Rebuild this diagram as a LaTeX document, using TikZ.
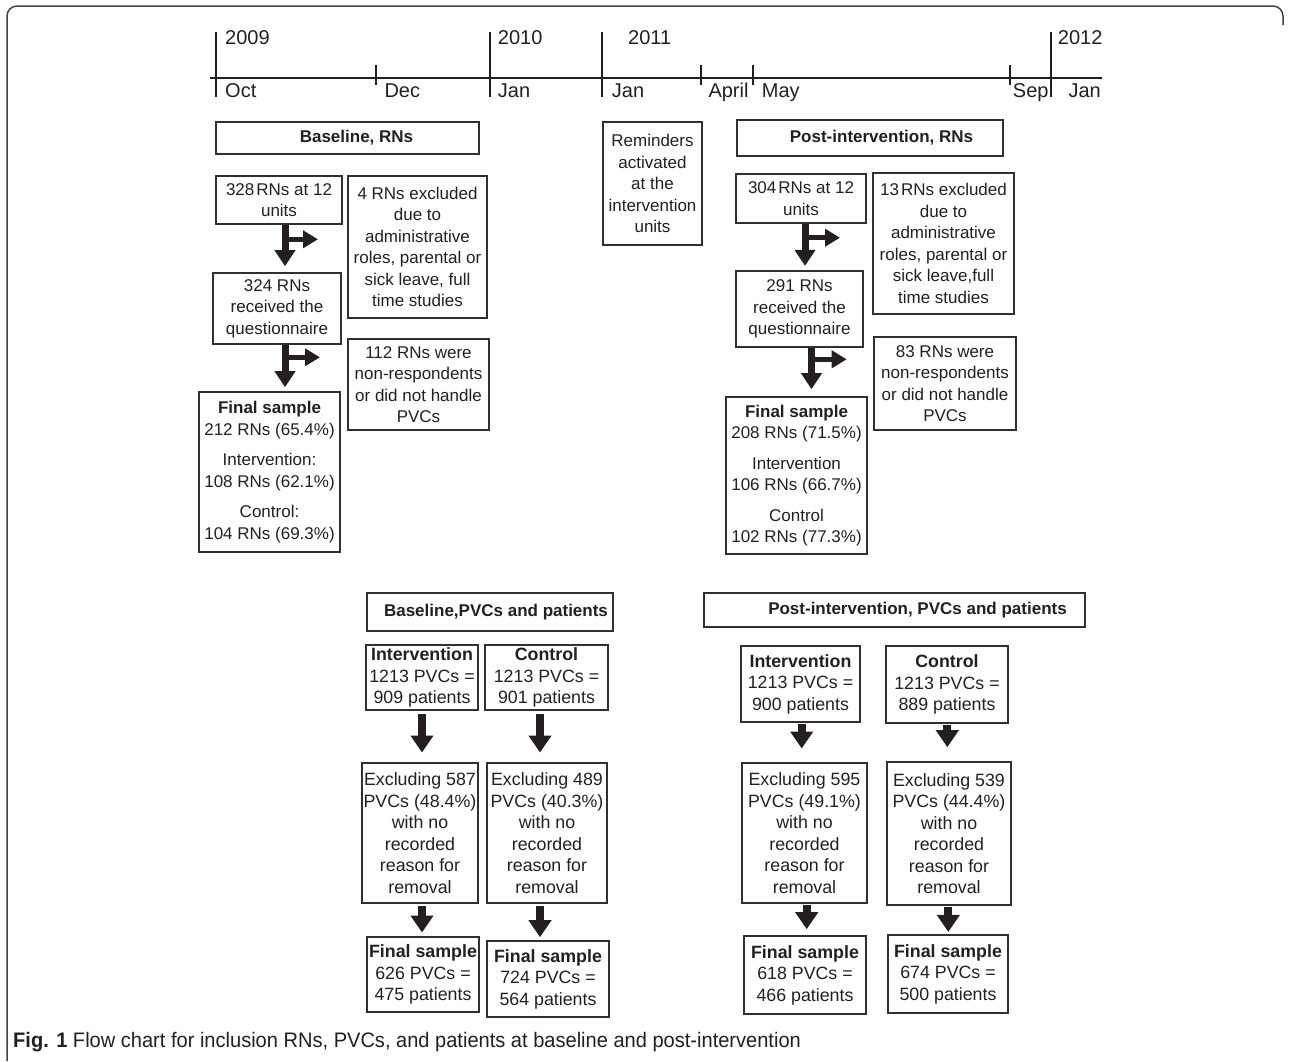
\documentclass[tikz,border=0pt]{standalone}
\usepackage{fontspec}
\setmainfont{Liberation Sans}
\newfontfamily\capfont[FakeStretch=0.955]{Liberation Sans}
\usetikzlibrary{arrows.meta}
\definecolor{ink}{HTML}{231F20}
\definecolor{boxcol}{HTML}{303030}
\definecolor{framecol}{HTML}{444444}
\begin{document}
\begin{tikzpicture}[x=1pt,y=-1pt,
  box/.style={draw=boxcol, line width=1.6pt, align=center, inner sep=1pt, text=ink,
    font=\fontsize{17pt}{21.5pt}\selectfont},
  pbox/.style={box, font=\fontsize{17.8pt}{21.5pt}\selectfont},
  tlabel/.style={anchor=base west, inner sep=0pt, text=ink, font=\fontsize{20pt}{24pt}\selectfont},
  tline/.style={draw=ink, line width=2.6pt},
  tick/.style={draw=ink, line width=2pt},
  rnarrow/.style={draw=ink, line width=7pt, -{Triangle[width=20pt,length=16pt]}},
  brarrow/.style={draw=ink, line width=5pt, -{Triangle[width=17pt,length=15pt]}},
  pvcarrow/.style={draw=ink, line width=8pt, -{Triangle[width=22pt,length=17pt]}}
]
\useasboundingbox (0,0) rectangle (1290,1061);
% outer frame
\draw[framecol, line width=1.5pt, rounded corners=10pt] (7,1061) -- (7,6) -- (1283,6) -- (1283,25);

% timeline
\draw[tline] (210,78) -- (1102,78);
\foreach \x in {216,490,602,1051} \draw[tick] (\x,32) -- (\x,97);
\foreach \x in {376,701,753,1010} \draw[tick] (\x,65) -- (\x,85);
\node[tlabel] (y09) at (225,44) {2009};
\node[tlabel] (y10) at (497.7,44) {2010};
\node[tlabel] (y11) at (628,44) {2011};
\node[tlabel] (y12) at (1057.7,44) {2012};
\node[tlabel] (m1) at (225,97) {Oct};
\node[tlabel] (m2) at (384.3,97) {Dec};
\node[tlabel] (m3) at (497.7,97) {Jan};
\node[tlabel] (m4) at (611.7,97) {Jan};
\node[tlabel] (m5) at (708.3,97) {April};
\node[tlabel] (m6) at (761.7,97) {May};
\node[tlabel] (m7) at (1012.7,97) {Sep};
\node[tlabel] (m8) at (1068.3,97) {Jan};

% Baseline RNs
\node[box,minimum width=263pt,minimum height=32pt] (brn) at (347.5,138) {\bfseries\hspace*{18pt}Baseline, RNs};
\node[box,minimum width=126pt,minimum height=48pt] (n328) at (279,200) {328\hspace{2pt}RNs at 12\\units};
\node[box,minimum width=139pt,minimum height=142pt] (n4) at (417.5,247) {4 RNs excluded\\due to\\administrative\\roles, parental or\\sick leave, full\\time studies};
\node[box,minimum width=128pt,minimum height=71pt] (n324) at (277,308.5) {324 RNs\\received the\\questionnaire};
\node[box,minimum width=141pt,minimum height=91pt] (n112) at (418.5,384.5) {112 RNs were\\non-respondents\\or did not handle\\PVCs};
\node[box,minimum width=141pt,minimum height=160pt] (f1) at (269.5,472) {{\bfseries Final sample}\\212 RNs (65.4\%)\\[9pt]Intervention:\\108 RNs (62.1\%)\\[9pt]Control:\\104 RNs (69.3\%)};

% Reminders
\node[box,minimum width=99pt,minimum height=123pt] (rem) at (652.5,183.5) {Reminders\\activated\\at the\\intervention\\units};

% Post-intervention RNs
\node[box,minimum width=266pt,minimum height=36pt] (prn) at (870,138) {\bfseries\hspace*{23pt}Post-intervention, RNs};
\node[box,minimum width=130pt,minimum height=49pt] (n304) at (801,198.5) {304\hspace{2pt}RNs at 12\\units};
\node[box,minimum width=141pt,minimum height=141pt] (n13) at (943.5,243.5) {13\hspace{2pt}RNs excluded\\due to\\administrative\\roles, parental or\\sick leave,full\\time studies};
\node[box,minimum width=127pt,minimum height=76pt] (n291) at (799.5,309) {291 RNs\\received the\\questionnaire};
\node[box,minimum width=142pt,minimum height=93pt] (n83) at (945,383.5) {83 RNs were\\non-respondents\\or did not handle\\PVCs};
\node[box,minimum width=141pt,minimum height=157pt] (f2) at (796.5,475.5) {{\bfseries Final sample}\\208 RNs (71.5\%)\\[9pt]Intervention\\106 RNs (66.7\%)\\[9pt]Control\\102 RNs (77.3\%)};

% RN arrows
\draw[rnarrow, shorten >=6pt] ([xshift=6pt]n328.south) -- ([xshift=8pt]n324.north);
\coordinate (bs1) at (284,239.3); \coordinate (be1c) at (318,239.3);
\draw[brarrow] (bs1) -- (be1c);
\draw[rnarrow, shorten >=4pt] ([xshift=8pt]n324.south) -- ([xshift=15.5pt]f1.north);
\coordinate (bs2) at (284,357.3); \coordinate (be2c) at (320,357.3);
\draw[brarrow] (bs2) -- (be2c);

\draw[rnarrow, shorten >=4.3pt] ([xshift=4pt]n304.south) -- ([xshift=5.5pt]n291.north);
\coordinate (bs3) at (804,237.7); \coordinate (be3c) at (840,237.7);
\draw[brarrow] (bs3) -- (be3c);
\draw[rnarrow, shorten >=7pt] ([xshift=12pt]n291.south) -- ([xshift=15pt]f2.north);
\coordinate (bs4) at (811,359.3); \coordinate (be4c) at (846.7,359.3);
\draw[brarrow] (bs4) -- (be4c);

% Baseline PVCs
\node[box,minimum width=246pt,minimum height=38pt] (bpvc) at (490,612) {\bfseries\hspace*{12pt}Baseline,PVCs and patients};
\node[pbox,minimum width=112pt,minimum height=65pt] (bi) at (422,677.5) {{\bfseries Intervention}\\1213 PVCs =\\909 patients};
\node[pbox,minimum width=123pt,minimum height=65pt] (bc) at (546.5,677.5) {{\bfseries Control}\\1213 PVCs =\\901 patients};
\node[pbox,minimum width=116pt,minimum height=140pt] (bx1) at (420,833) {Excluding 587\\PVCs (48.4\%)\\with no\\recorded\\reason for\\removal};
\node[pbox,minimum width=120pt,minimum height=140pt] (bx2) at (547,833) {Excluding 489\\PVCs (40.3\%)\\with no\\recorded\\reason for\\removal};
\node[pbox,minimum width=112pt,minimum height=75pt] (bf1) at (423,974.5) {{\bfseries Final sample}\\626 PVCs =\\475 patients};
\node[pbox,minimum width=122pt,minimum height=76pt] (bf2) at (548,979) {{\bfseries Final sample}\\724 PVCs =\\564 patients};

% Post-intervention PVCs
\node[box,minimum width=381pt,minimum height=34pt] (ppvc) at (894.5,610) {\bfseries\hspace*{46pt}Post-intervention, PVCs and patients};
\node[pbox,minimum width=119pt,minimum height=76pt] (pi) at (800.5,684) {{\bfseries Intervention}\\1213 PVCs =\\900 patients};
\node[pbox,minimum width=122pt,minimum height=77pt] (pc) at (947,684.5) {{\bfseries Control}\\1213 PVCs =\\889 patients};
\node[pbox,minimum width=125pt,minimum height=140pt] (px1) at (804.5,833) {Excluding 595\\PVCs (49.1\%)\\with no\\recorded\\reason for\\removal};
\node[pbox,minimum width=124pt,minimum height=143pt] (px2) at (949,833.5) {Excluding 539\\PVCs (44.4\%)\\with no\\recorded\\reason for\\removal};
\node[pbox,minimum width=122pt,minimum height=78pt] (pf1) at (805,975) {{\bfseries Final sample}\\618 PVCs =\\466 patients};
\node[pbox,minimum width=120pt,minimum height=78pt] (pf2) at (948,974) {{\bfseries Final sample}\\674 PVCs =\\500 patients};

% PVC arrows
\draw[pvcarrow, shorten <=3pt, shorten >=9.7pt] ([xshift=0pt]bi.south) -- ([xshift=2pt]bx1.north);
\draw[pvcarrow, shorten <=3pt, shorten >=9.7pt] ([xshift=-6.5pt]bc.south) -- ([xshift=-7pt]bx2.north);
\draw[pvcarrow, shorten <=2pt, shorten >=3.7pt] ([xshift=2pt]bx1.south) -- ([xshift=-1pt]bf1.north);
\draw[pvcarrow, shorten <=2pt, shorten >=3pt] ([xshift=-7pt]bx2.south) -- ([xshift=-8pt]bf2.north);
\draw[pvcarrow, shorten <=1pt, shorten >=13.7pt] ([xshift=1.2pt]pi.south) -- ([xshift=-2.8pt]px1.north);
\draw[pvcarrow, shorten <=1pt, shorten >=14pt] ([xshift=0.3pt]pc.south) -- ([xshift=-1.7pt]px2.north);
\draw[pvcarrow, shorten <=1pt, shorten >=6pt] ([xshift=2.2pt]px1.south) -- ([xshift=1.7pt]pf1.north);
\draw[pvcarrow, shorten <=1pt, shorten >=2.3pt] ([xshift=-0.7pt]px2.south) -- ([xshift=0.3pt]pf2.north);

% caption
\node[anchor=base west, inner sep=0pt, text=ink, font=\capfont\fontsize{21pt}{24pt}\selectfont] (cap) at (13,1047) {\textbf{Fig. 1} Flow chart for inclusion RNs, PVCs, and patients at baseline and post-intervention};
\end{tikzpicture}
\end{document}
